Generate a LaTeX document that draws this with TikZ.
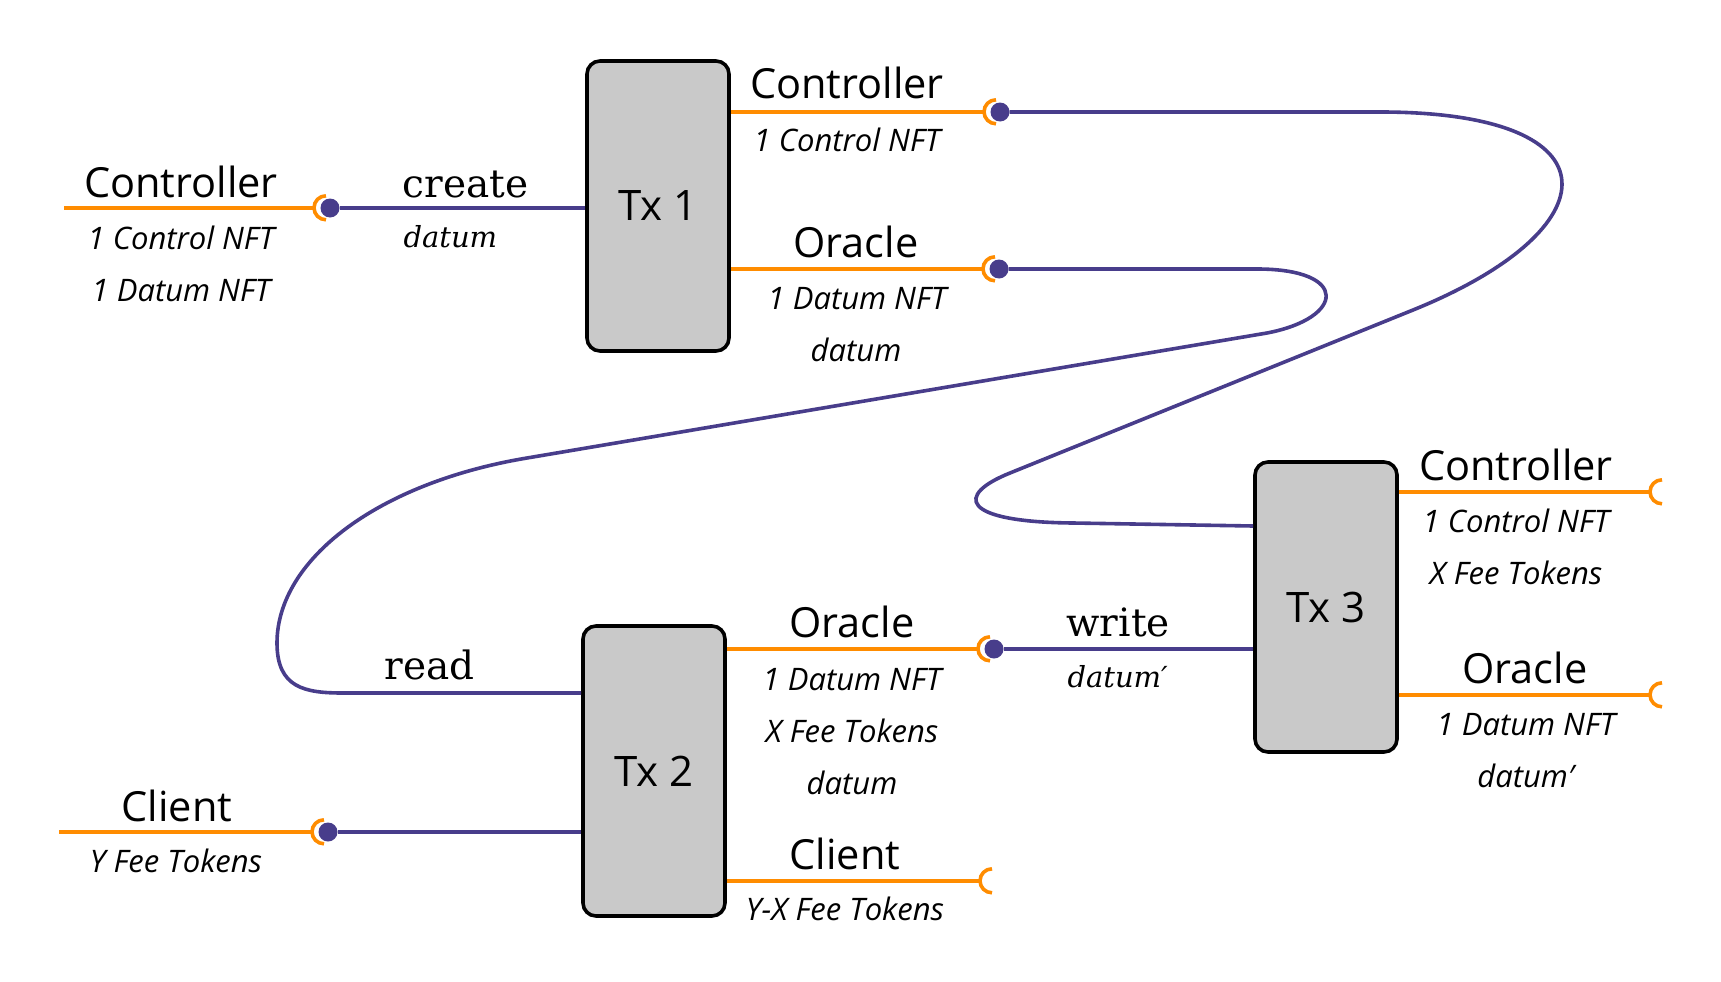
\documentclass[tikz,border=0pt]{standalone}
\usepackage{fontspec}
\setmainfont{Open Sans}
\newfontfamily\accionfont{DejaVu Serif}
\usepackage{tikz}
\usetikzlibrary{positioning, calc}
\usepackage{xcolor}
\definecolor{utxoOrange}{HTML}{FF8C00}
\definecolor{utxoPurple}{HTML}{483D8B}
\definecolor{utxoGray}{HTML}{C9C9C9}

\begin{document}
\begin{tikzpicture}[x=1pt, y=-1pt,
    tx/.style={draw=black, fill=utxoGray, rounded corners=13pt, line width=3.6pt,
      minimum width=142pt, minimum height=290pt, inner sep=0pt,
      font=\fontsize{42}{50}\selectfont},
    wire/.style={draw=utxoOrange, line width=3.6pt},
    link/.style={draw=utxoPurple, line width=3.6pt},
    plug/.style={circle, minimum size=24pt, inner sep=0pt},
    dot/.style={circle, fill=utxoPurple, minimum size=19pt, inner sep=0pt},
    puerto/.style={anchor=base, font=\fontsize{41.5}{48}\selectfont},
    monto/.style={anchor=base, font=\fontsize{31}{36}\selectfont\itshape},
    accion/.style={anchor=base west, font=\accionfont\fontsize{39}{46}\selectfont},
    dato/.style={anchor=base west, font=\accionfont\fontsize{29}{36}\selectfont\itshape}]
  \useasboundingbox (0,0) rectangle (1721,982);

  % Transacciones
  \node[tx] (tx1) at (658,206) {Tx 1};
  \node[tx] (tx2) at (654,771) {Tx 2};
  \node[tx] (tx3) at (1326,607) {Tx 3};

  % Enchufes: arco naranja abierto a la derecha
  \foreach \nombre/\x/\y in {p0/326/208, p1/996/112, p2/995/269, p3/990/649,
      p4/992/881, p5/324/832, p6/1662/492, p7/1662/695} {
    \node[plug] (\nombre) at (\x,\y) {};
    \draw[wire] (\nombre.north) arc[start angle=90, end angle=270, radius=12pt];
  }
  % Puntos de consumo
  \foreach \d/\p in {d0/p0, d1/p1, d2/p2, d3/p3, d5/p5}
    \node[dot] (\d) at ([xshift=4pt]\p.center) {};

  % Salidas (naranja)
  \coordinate (in0) at (64,208);
  \coordinate (in5) at (59,832);
  \draw[wire] (in0) -- (p0.west);
  \draw[wire] (in5) -- (p5.west);
  \draw[wire] (tx1.east |- p1) -- (p1.west);
  \draw[wire] (tx1.east |- p2) -- (p2.west);
  \draw[wire] (tx2.east |- p3) -- (p3.west);
  \draw[wire] (tx2.east |- p4) -- (p4.west);
  \draw[wire] (tx3.east |- p6) -- (p6.west);
  \draw[wire] (tx3.east |- p7) -- (p7.west);

  % Entradas (morado)
  \draw[link] (d0) -- (d0 -| tx1.west);
  \draw[link] (d5) -- (d5 -| tx2.west);
  \draw[link] (d3) -- (d3 -| tx3.west);
  % Controller: Tx 1 -> Tx 3
  \draw[link] (d1) -- (1383,112) .. controls (1620,113) and (1613,229) .. (1413,310)
    -- (1010,473) .. controls (955,495) and (960,522) .. (1073,523)
    -- ([yshift=81pt]tx3.west);
  % Oracle: Tx 1 -> Tx 2 (lectura)
  \draw[link] (d2) -- (1257,269) .. controls (1350,269) and (1345,318) .. (1267,333)
    -- (527,458) .. controls (377,483) and (277,560) .. (277,643)
    .. controls (277,688) and (305,693) .. (343,693) -- ([yshift=78pt]tx2.west);

  % Nombres de los puertos
  \foreach \x/\y/\texto [count=\i] in {181/197/Controller, 847/98/Controller,
      856/257/Oracle, 852/637/Oracle, 845/869/Client, 177/821/Client,
      1516/480/Controller, 1525/683/Oracle}
    \node[puerto] (puerto\i) at (\x,\y) {\texto};
  % Contenido de cada salida
  \foreach \x/\y/\texto [count=\i] in {181/249/{1 Control NFT}, 181/301/{1 Datum NFT},
      847/151/{1 Control NFT}, 857/309/{1 Datum NFT}, 856/361/datum,
      852/690/{1 Datum NFT}, 852/742/{X Fee Tokens}, 852/794/datum,
      845/920/{Y-X Fee Tokens}, 176/872/{Y Fee Tokens},
      1516/532/{1 Control NFT}, 1516/584/{X Fee Tokens},
      1526/735/{1 Datum NFT}, 1526/787/{datum′}}
    \node[monto] (monto\i) at (\x,\y) {\texto};

  % Acciones sobre el datum
  \node[accion] (create) at (399,197) {create};
  \node[dato] (createdat) at (400,247) {datum};
  \node[accion] (read) at (381,679) {read};
  \node[accion] (write) at (1063,636) {write};
  \node[dato] (writedat) at (1064,687) {datum′};
\end{tikzpicture}
\end{document}
